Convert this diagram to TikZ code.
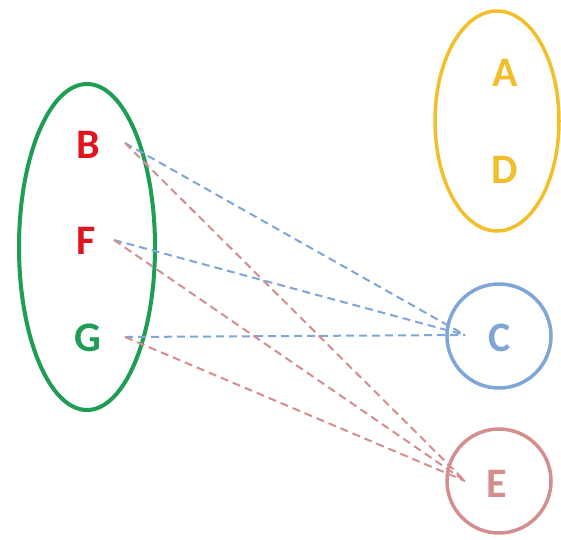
\documentclass[tikz,border=0pt]{standalone}
\usepackage{fontspec}
\setmainfont{Carlito}
\definecolor{grn}{HTML}{1E9E55}
\definecolor{rd}{HTML}{E0141E}
\definecolor{yel}{HTML}{F2BF2A}
\definecolor{blu}{HTML}{7FA6D6}
\definecolor{pnk}{HTML}{D48E8E}
\tikzset{
  lbl/.style={font=\fontsize{42}{42}\selectfont\bfseries, inner sep=0pt},
  bluedash/.style={draw=blu, line width=2pt, dash pattern=on 8pt off 5pt},
  pinkdash/.style={draw=pnk, line width=2pt, dash pattern=on 8pt off 5pt},
}
\begin{document}
\begin{tikzpicture}[x=1pt,y=1pt]
\useasboundingbox[fill=white] (0,0) rectangle (561,539);
% containers
\draw[grn, line width=4pt] (87,292) ellipse [x radius=68, y radius=163];
\draw[yel, line width=3.5pt] (497,418) ellipse [x radius=62, y radius=110];
\draw[blu, line width=3.5pt] (499,203) circle [radius=52];
\draw[pnk, line width=3.5pt] (499,58) circle [radius=52];
% labels
\node[lbl, text=rd] (B) at (88,394) {B};
\node[lbl, text=rd] (F) at (86,298) {F};
\node[lbl, text=grn] (G) at (88,201) {G};
\node[lbl, text=yel] (A) at (505,466) {A};
\node[lbl, text=yel] (D) at (505,369) {D};
\node[lbl, text=blu] (C) at (500,201) {C};
\node[lbl, text=pnk] (E) at (497,55) {E};
% connector endpoints
\coordinate (bs) at (125,396);
\coordinate (fs) at (114,299);
\coordinate (gs) at (125,202);
\coordinate (ce) at (465,204);
\coordinate (ee) at (465,58);
% connectors
\draw[bluedash] (bs) -- (ce);
\draw[bluedash] (fs) -- (ce);
\draw[bluedash] (gs) -- (ce);
\draw[pinkdash] (bs) -- (ee);
\draw[pinkdash] (fs) -- (ee);
\draw[pinkdash] (gs) -- (ee);
\end{tikzpicture}
\end{document}
